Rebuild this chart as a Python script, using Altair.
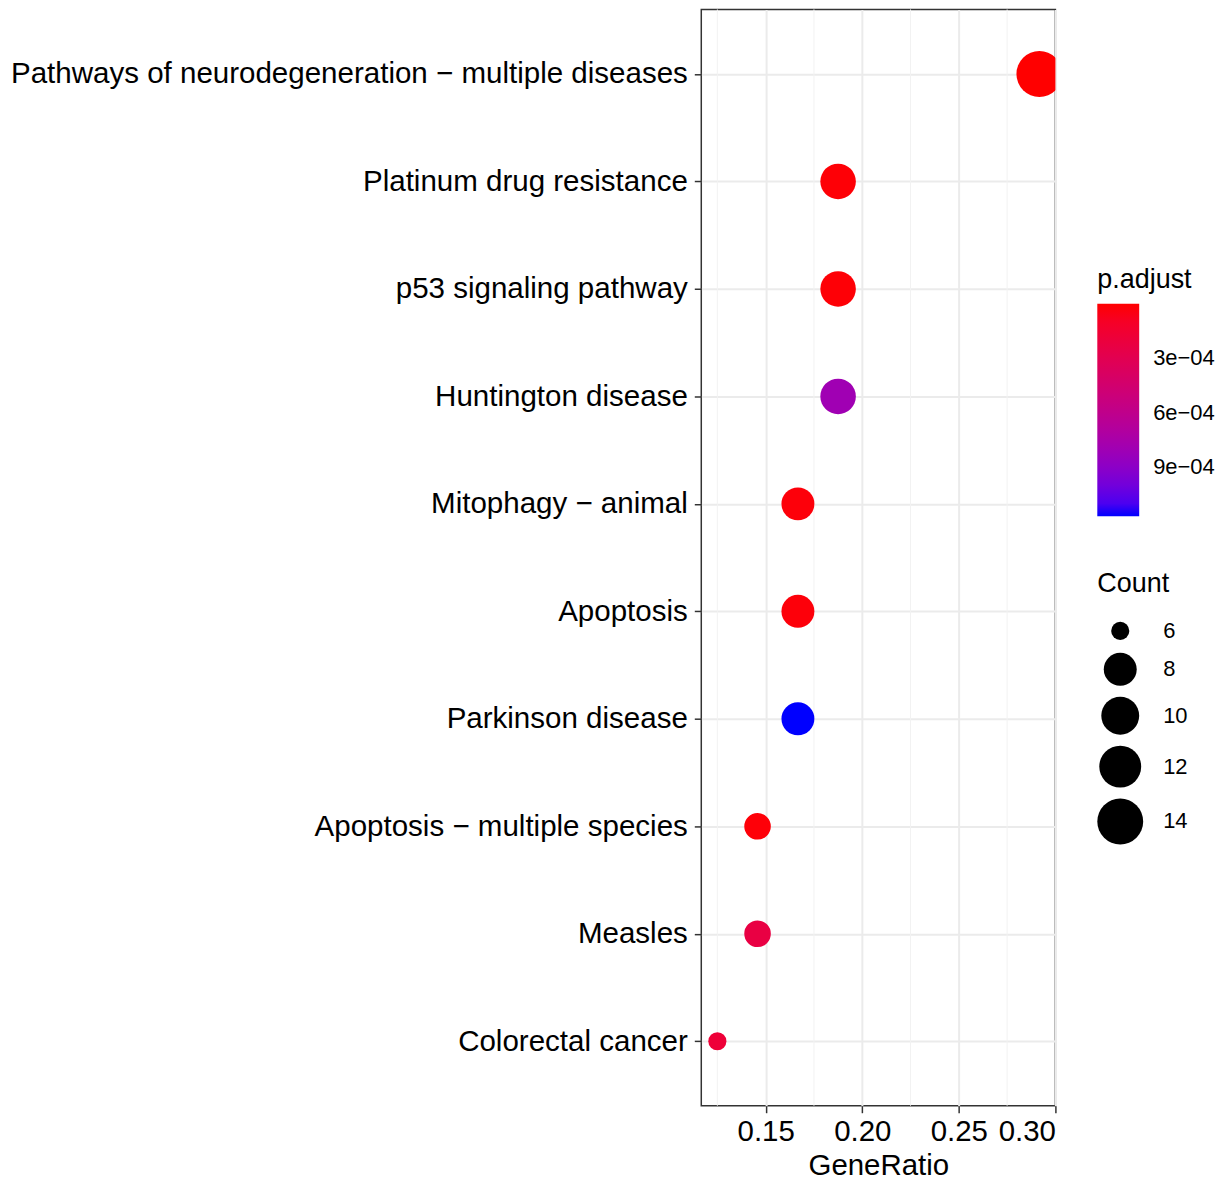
import altair as alt
import pandas as pd

pathways = [
    "Pathways of neurodegeneration − multiple diseases",
    "Platinum drug resistance",
    "p53 signaling pathway",
    "Huntington disease",
    "Mitophagy − animal",
    "Apoptosis",
    "Parkinson disease",
    "Apoptosis − multiple species",
    "Measles",
    "Colorectal cancer",
]
gene_ratio = [0.2917, 0.1875, 0.1875, 0.1875, 0.1667, 0.1667, 0.1667, 0.1458, 0.1458, 0.1250]
counts = [14, 9, 9, 9, 8, 8, 8, 7, 7, 6]
p_adjust = [2.0e-7, 1.2e-5, 1.2e-5, 8.0e-4, 1.8e-5, 1.8e-5, 1.17e-3, 1.5e-5, 2.3e-4, 1.8e-4]

x_major = [0.15, 0.20, 0.25, 0.30]
x_minor = [0.125, 0.175, 0.225, 0.275]
color_ticks = [3e-4, 6e-4, 9e-4]
count_ticks = [6, 8, 10, 12, 14]

df = pd.DataFrame({"Description": pathways, "GeneRatio": gene_ratio,
                   "Count": counts, "padj": p_adjust})
minor_df = pd.DataFrame({"GeneRatio": x_minor})

FONT = "Liberation Sans"

x_scale = alt.Scale(domain=[0.11667, 0.30], nice=False, zero=False)

minor = alt.Chart(minor_df).mark_rule(color="#F2F2F2", strokeWidth=1).encode(
    x=alt.X("GeneRatio:Q", scale=x_scale)
)

# legend shows smallest p.adjust (red) at top: encode the negated value
neg_ticks = [-v for v in color_ticks]

points = alt.Chart(df).transform_calculate(
    negp="-datum.padj"
).mark_circle(opacity=1, clip=True).encode(
    x=alt.X("GeneRatio:Q", scale=x_scale,
            axis=alt.Axis(values=x_major, format=".2f", title="GeneRatio",
                          grid=True, gridColor="#EBEBEB", gridWidth=2,
                          labelFontSize=29.5, titleFontSize=29.5, labelPadding=5,
                          titleBaseline="alphabetic", titleY=69)),
    y=alt.Y("Description:N", sort=pathways,
            scale=alt.Scale(type="point", padding=0.6),
            axis=alt.Axis(title=None, grid=True, gridColor="#EBEBEB", gridWidth=2,
                          labelFontSize=29.6, labelPadding=7, labelLimit=1000)),
    color=alt.Color("negp:Q",
                    scale=alt.Scale(range=["#0000FF", "#FF0000"], interpolate="lab"),
                    legend=alt.Legend(title="p.adjust", values=neg_ticks,
                                      labelExpr="format(-datum.value*1e4,'.0f') + 'e−04'",
                                      gradientLength=213, gradientThickness=42,
                                      gradientStrokeWidth=0,
                                      titleFontSize=27, labelFontSize=22,
                                      titleFontWeight="normal", labelOffset=14,
                                      titlePadding=10,
                                      orient="none", legendX=397, legendY=258,
                                      direction="vertical")),
    size=alt.Size("Count:Q",
                  scale=alt.Scale(domain=[6, 8, 10, 12, 14],
                                  range=[330, 1089, 1444, 1764, 2116]),
                  legend=alt.Legend(title="Count", values=count_ticks,
                                    symbolFillColor="black", symbolStrokeWidth=0,
                                    symbolOpacity=1, symbolType="circle",
                                    titleFontSize=27, labelFontSize=22,
                                    titleFontWeight="normal", labelOffset=20,
                                    rowPadding=11, titlePadding=22,
                                    orient="none", legendX=397, legendY=563)),
    tooltip=[alt.Tooltip("padj:Q", title="p.adjust")],
)

chart = alt.layer(minor, points).properties(
    width=355, height=1099,
    autosize=alt.AutoSizeParams(type="none"),
    padding={"left": 695, "top": 0, "right": 162, "bottom": 75},
).configure(font=FONT).configure_view(
    stroke="#333333", strokeWidth=1.5
).configure_axis(
    domain=False, tickColor="#333333", tickWidth=1.5, tickSize=7,
    labelColor="black", titleColor="black", titleFontWeight="normal",
).configure_legend(
    labelColor="black", titleColor="black"
)

chart.save("out.html", embed_options={"renderer": "svg", "actions": False})
